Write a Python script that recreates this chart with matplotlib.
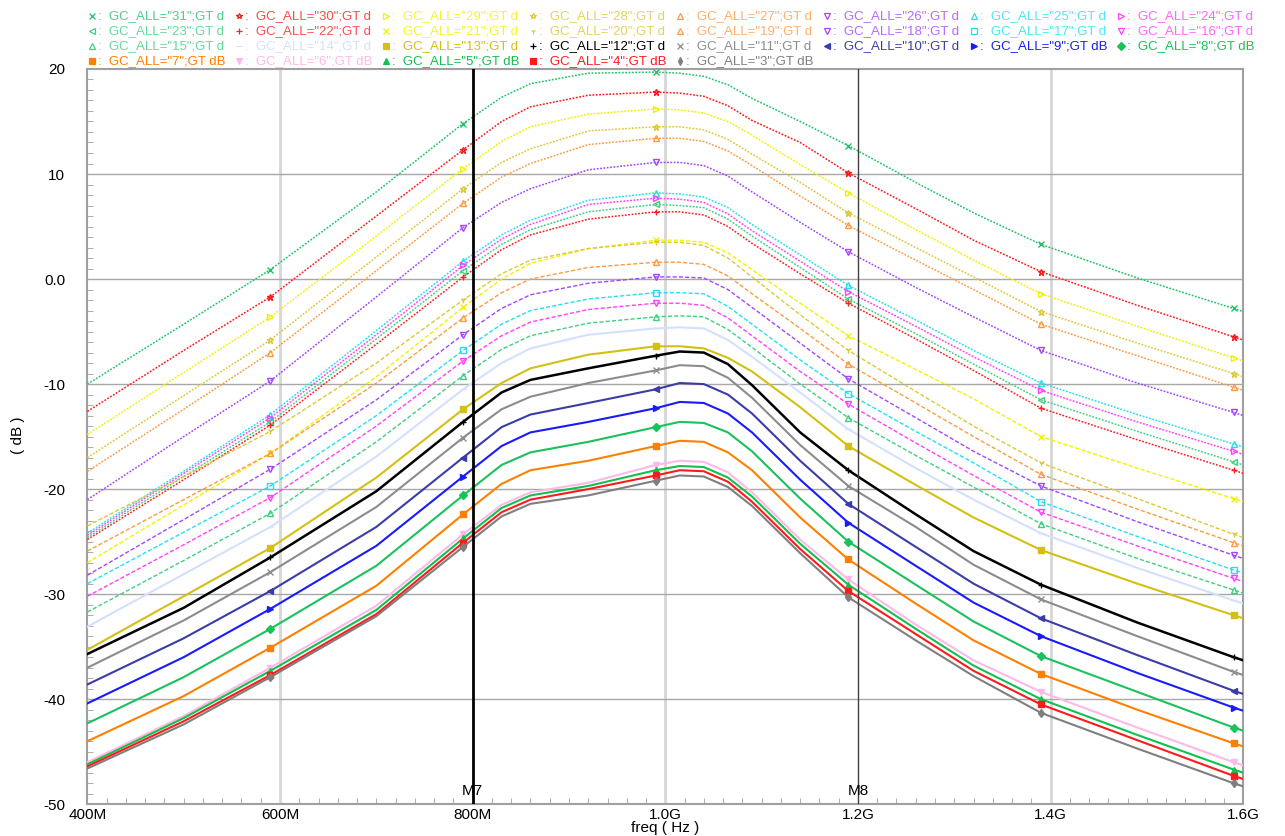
import matplotlib
matplotlib.use("Agg")
import matplotlib.pyplot as plt
from matplotlib.ticker import MultipleLocator, FixedLocator, FixedFormatter

plt.rcParams["font.family"] = ["Liberation Sans", "DejaVu Sans"]

# frequency points (MHz)
freq_mhz = [400, 500, 590, 700, 790, 830, 860, 920, 990, 1015, 1040, 1065, 1090, 1140, 1190,
            1260, 1320, 1390, 1490, 1590, 1600]

# gain (dB) for each GC_ALL code
gc31 = [-10.0, -4.3, 0.9, 8.3, 14.8, 17.3, 18.6, 19.6, 19.7, 19.6, 19.3, 18.5, 17.2, 15.0, 12.7, 9.2, 6.3, 3.3, 0.1, -2.8, -3.1]
gc30 = [-12.6, -6.8, -1.7, 6.0, 12.3, 15.0, 16.4, 17.5, 17.8, 17.7, 17.4, 16.5, 15.1, 13.0, 10.1, 6.7, 3.7, 0.7, -2.5, -5.5, -5.8]
gc29 = [-14.8, -8.9, -3.6, 4.1, 10.5, 13.1, 14.5, 15.7, 16.2, 16.1, 15.8, 15.0, 13.7, 10.9, 8.2, 4.7, 1.8, -1.4, -4.5, -7.5, -7.8]
gc28 = [-17.0, -11.1, -5.8, 2.1, 8.6, 11.1, 12.4, 14.1, 14.5, 14.5, 14.2, 13.3, 11.9, 9.2, 6.3, 3.0, 0.2, -3.1, -6.1, -9.0, -9.3]
gc27 = [-18.3, -12.4, -7.0, 0.8, 7.2, 9.7, 11.0, 12.8, 13.4, 13.4, 13.1, 12.2, 10.8, 7.9, 5.1, 1.8, -1.0, -4.3, -7.3, -10.3, -10.6]
gc26 = [-21.0, -15.0, -9.7, -1.7, 4.9, 7.3, 8.6, 10.4, 11.1, 11.1, 10.8, 9.8, 8.3, 5.4, 2.6, -0.8, -3.6, -6.8, -9.9, -12.7, -13.0]
gc25 = [-24.2, -18.3, -12.9, -4.9, 1.7, 4.2, 5.6, 7.5, 8.2, 8.1, 7.8, 6.8, 5.2, 2.3, -0.6, -3.9, -6.8, -9.9, -12.9, -15.7, -16.0]
gc24 = [-24.4, -18.5, -13.2, -5.3, 1.3, 3.8, 5.2, 7.1, 7.7, 7.6, 7.3, 6.2, 4.6, 1.7, -1.2, -4.5, -7.4, -10.6, -13.6, -16.4, -16.7]
gc23 = [-24.6, -18.8, -13.6, -5.7, 0.8, 3.3, 4.7, 6.4, 7.1, 7.0, 6.8, 5.7, 4.1, 1.1, -1.9, -5.2, -8.1, -11.5, -14.5, -17.4, -17.7]
gc22 = [-24.8, -19.1, -13.9, -6.2, 0.2, 2.8, 4.2, 5.7, 6.4, 6.4, 6.1, 5.0, 3.4, 0.5, -2.3, -5.7, -8.7, -12.3, -15.3, -18.2, -18.5]
gc21 = [-27.0, -21.5, -16.6, -9.3, -2.7, 0.0, 1.5, 2.9, 3.7, 3.7, 3.5, 2.5, 0.9, -2.3, -5.4, -8.6, -11.4, -15.0, -18.0, -20.9, -21.2]
gc20 = [-23.5, -18.8, -14.5, -8.0, -2.0, 0.5, 1.8, 2.9, 3.5, 3.5, 3.2, 2.0, 0.2, -3.4, -6.8, -10.7, -14.0, -17.5, -20.9, -24.3, -24.6]
gc19 = [-25.9, -21.0, -16.6, -9.9, -3.7, -1.3, 0.0, 1.1, 1.6, 1.6, 1.4, 0.3, -1.4, -4.7, -8.1, -11.8, -15.0, -18.6, -21.9, -25.1, -25.4]
gc18 = [-28.2, -22.9, -18.1, -11.5, -5.3, -2.8, -1.5, -0.4, 0.2, 0.2, 0.1, -1.0, -2.7, -6.1, -9.5, -13.2, -16.4, -19.7, -23.1, -26.3, -26.6]
gc17 = [-29.0, -24.1, -19.7, -13.0, -6.8, -4.3, -3.0, -1.9, -1.3, -1.3, -1.4, -2.6, -4.3, -7.7, -10.9, -14.5, -17.5, -21.2, -24.5, -27.7, -28.0]
gc16 = [-30.2, -25.3, -20.8, -14.0, -7.8, -5.4, -4.1, -2.9, -2.3, -2.3, -2.5, -3.7, -5.4, -8.8, -11.9, -15.6, -18.7, -22.2, -25.4, -28.5, -28.8]
gc15 = [-31.7, -26.8, -22.3, -15.5, -9.2, -6.7, -5.4, -4.2, -3.6, -3.5, -3.6, -4.8, -6.5, -10.0, -13.2, -16.8, -19.8, -23.3, -26.6, -29.6, -29.9]
gc14 = [-33.1, -28.1, -23.6, -16.9, -10.5, -8.0, -6.6, -5.3, -4.7, -4.6, -4.7, -5.8, -7.4, -10.8, -14.3, -18.0, -21.0, -24.2, -27.5, -30.6, -30.9]
gc13 = [-35.3, -30.2, -25.6, -18.9, -12.4, -9.9, -8.5, -7.2, -6.4, -6.4, -6.6, -7.5, -8.8, -12.2, -15.9, -19.6, -22.7, -25.8, -29.0, -32.0, -32.3]
gc12 = [-35.7, -31.3, -26.5, -20.2, -13.6, -10.8, -9.6, -8.5, -7.3, -6.9, -7.0, -8.1, -10.1, -14.6, -18.2, -22.4, -25.9, -29.1, -32.7, -36.0, -36.3]
gc11 = [-37.0, -32.5, -27.9, -21.7, -15.1, -12.4, -11.2, -9.9, -8.7, -8.2, -8.3, -9.4, -11.3, -15.8, -19.7, -23.6, -27.2, -30.5, -34.0, -37.4, -37.7]
gc10 = [-38.6, -34.2, -29.7, -23.6, -17.0, -14.1, -12.9, -11.8, -10.5, -9.9, -10.0, -11.0, -12.8, -17.3, -21.4, -25.5, -29.0, -32.3, -35.8, -39.2, -39.5]
gc9 = [-40.4, -36.0, -31.4, -25.4, -18.8, -15.9, -14.6, -13.6, -12.3, -11.7, -11.8, -12.8, -14.6, -19.1, -23.2, -27.3, -30.8, -34.0, -37.5, -40.8, -41.1]
gc8 = [-42.3, -37.9, -33.3, -27.3, -20.6, -17.7, -16.5, -15.5, -14.1, -13.6, -13.7, -14.6, -16.4, -20.9, -25.0, -29.1, -32.6, -35.9, -39.3, -42.7, -43.0]
gc7 = [-44.0, -39.7, -35.1, -29.2, -22.4, -19.5, -18.2, -17.3, -15.9, -15.4, -15.5, -16.5, -18.2, -22.7, -26.7, -30.9, -34.4, -37.6, -41.0, -44.2, -44.5]
gc6 = [-46.0, -41.6, -37.0, -31.1, -24.3, -21.5, -20.3, -19.4, -17.7, -17.3, -17.4, -18.4, -20.3, -24.8, -28.6, -32.9, -36.3, -39.3, -42.7, -46.0, -46.3]
gc5 = [-46.2, -41.8, -37.3, -31.5, -24.7, -21.8, -20.6, -19.7, -18.2, -17.8, -17.9, -18.9, -20.7, -25.2, -29.1, -33.3, -36.8, -40.0, -43.4, -46.7, -47.0]
gc4 = [-46.4, -42.1, -37.7, -31.9, -25.1, -22.2, -21.0, -20.0, -18.7, -18.2, -18.3, -19.3, -21.2, -25.7, -29.7, -33.8, -37.3, -40.5, -43.9, -47.3, -47.6]
gc3 = [-46.6, -42.4, -37.9, -32.1, -25.5, -22.6, -21.4, -20.6, -19.2, -18.7, -18.8, -19.8, -21.6, -26.1, -30.3, -34.4, -37.8, -41.3, -44.7, -48.0, -48.3]

gc_codes = [31, 30, 29, 28, 27, 26, 25, 24, 23, 22, 21, 20, 19, 18, 17, 16, 15,
            14, 13, 12, 11, 10, 9, 8, 7, 6, 5, 4, 3]
gains = [gc31, gc30, gc29, gc28, gc27, gc26, gc25, gc24, gc23, gc22, gc21, gc20, gc19, gc18, gc17,
         gc16, gc15, gc14, gc13, gc12, gc11, gc10, gc9, gc8, gc7, gc6, gc5, gc4, gc3]

colors = ["#1fc46a", "#ff1a1a", "#f2f200", "#dcc83a", "#ff9a40", "#a445ff", "#22e0f0", "#ff40ff",
          "#40cf80", "#ff2020", "#f2f200", "#dcc83a", "#ff9a40", "#a445ff", "#22e0f0", "#ff40ff",
          "#40cf80", "#d5e0ff", "#d4c010", "#000000", "#8c8c8c", "#3c3ca8", "#1a1aff", "#19c25a",
          "#ff8000", "#ffb8e8", "#12c050", "#ff1a1a", "#7f7f7f"]
markers = ["x", "*", ">", "*", "^", "v", "^", ">", "<", "+", "x", "1", "^", "v", "s", "v", "^",
           "_", "s", "+", "x", "<", ">", "D", "s", "v", "^", "s", "d"]

marker_idx = [2, 4, 8, 14, 17, 19]  # 590M, 790M, 990M, 1.19G, 1.39G, 1.59G

fig = plt.figure(figsize=(12.85, 8.36), dpi=100)
ax = fig.add_axes([0.068, 0.038, 0.8995, 0.8795])

# grid and cursor lines
for f in [600, 1000, 1400]:
    ax.axvline(f, color="#d6d6d6", lw=2, zorder=0)
for g in range(-40, 20, 10):
    ax.axhline(g, color="#a8a8a8", lw=1, zorder=0)

for code, y, c, m in zip(gc_codes, gains, colors, markers):
    if code >= 22:
        ls, lw, fill = (0, (1.2, 1.0)), 1.1, "none"
    elif code >= 15:
        ls, lw, fill = (0, (3, 1.5)), 1.0, "none"
    else:
        ls, lw, fill = "-", 1.5, c
    if code == 12:
        lw = 1.8
    ax.plot(freq_mhz, y, color=c, ls=ls, lw=lw, marker=m, markevery=marker_idx,
            ms=4.5, mew=1.0, mfc=fill, mec=c, zorder=3)

ax.axvline(800, color="black", lw=2, zorder=4)
ax.axvline(1200, color="#404040", lw=1, zorder=4)
ax.text(800, -48.7, "M7", ha="center", va="center", fontsize=11, zorder=5)
ax.text(1200, -48.7, "M8", ha="center", va="center", fontsize=11, zorder=5)

ax.set_xlim(400, 1600)
ax.set_ylim(-50, 20)
ax.xaxis.set_major_locator(FixedLocator([400, 600, 800, 1000, 1200, 1400, 1600]))
ax.xaxis.set_major_formatter(FixedFormatter(["400M", "600M", "800M", "1.0G", "1.2G", "1.4G", "1.6G"]))
ax.yaxis.set_major_locator(FixedLocator([-50, -40, -30, -20, -10, 0, 10, 20]))
ax.yaxis.set_major_formatter(FixedFormatter(["-50", "-40", "-30", "-20", "-10", "0.0", "10", "20"]))
ax.xaxis.set_minor_locator(MultipleLocator(20))
ax.yaxis.set_minor_locator(MultipleLocator(1))
ax.tick_params(which="major", length=0, labelsize=11)
ax.tick_params(axis="x", which="major", pad=3)
ax.tick_params(axis="y", which="major", pad=16)
ax.tick_params(which="minor", direction="in", length=4, color="#a0a0a0")
for s in ax.spines.values():
    s.set_color("#a0a0a0")
    s.set_linewidth(1.5)
fig.text(665 / 1285, 1 - 828 / 836, "freq ( Hz )", ha="center", va="center", fontsize=11)
fig.text(18 / 1285, 1 - 435 / 836, "( dB )", ha="center", va="center", fontsize=11, rotation=90)

# legend drawn as coloured text rows at the top
leg = fig.add_axes([0, 0, 1, 1], facecolor="none")
leg.set_xlim(0, 1285)
leg.set_ylim(836, 0)
leg.axis("off")
for i, (code, c, m) in enumerate(zip(gc_codes, colors, markers)):
    row, col = divmod(i, 8)
    x0 = 92 + 147 * col
    y0 = 16 + 15 * row
    fill = c if code < 15 else "none"
    leg.plot([x0], [y0], marker=m, ms=4, mfc=fill, mec=c, mew=0.9, color=c)
    tail = "dB" if (row == 3 or code in (9, 8)) else "d"
    leg.text(x0 + 6, y0, f':  GC_ALL="{code}";GT {tail}', color=c, fontsize=9.5,
             va="center", ha="left", alpha=0.8 if code >= 15 else 1.0)

fig.savefig("out.png", dpi=100)
